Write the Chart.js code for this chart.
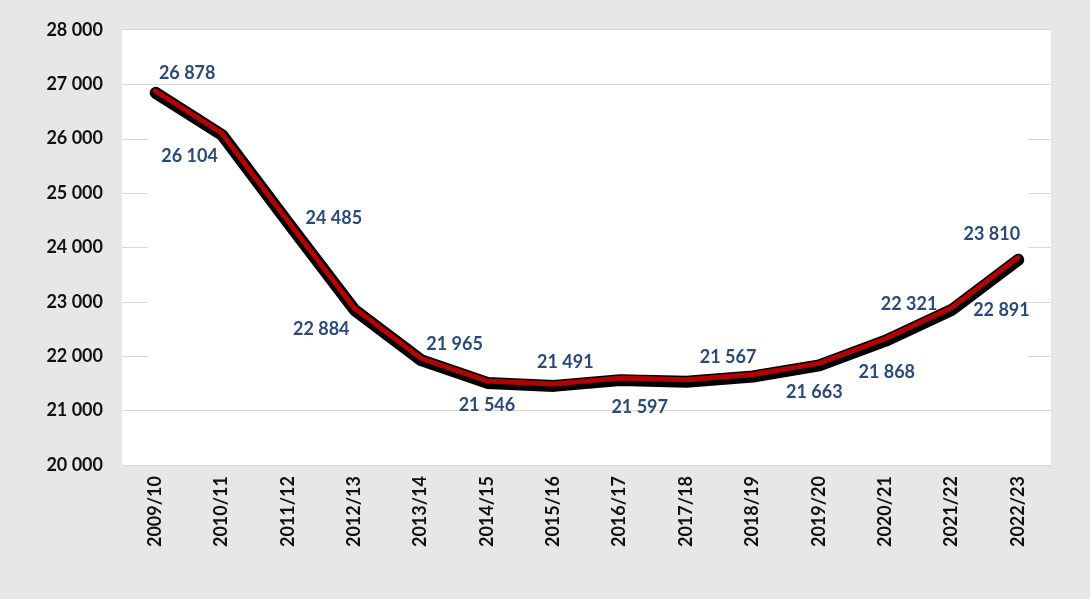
<!DOCTYPE html>
<html>
<head>
<meta charset="utf-8">
<script src="https://cdn.jsdelivr.net/npm/chart.js@4"></script>
<style>
  html, body { margin:0; padding:0; background:#e7e7e7; }
  #wrap { width:1090px; height:599px; }
</style>
</head>
<body>
<div id="wrap"><canvas id="c" width="1090" height="599"></canvas></div>
<script>
const categories = ["2009/10","2010/11","2011/12","2012/13","2013/14","2014/15","2015/16","2016/17","2017/18","2018/19","2019/20","2020/21","2021/22","2022/23"];
const values = [26878, 26104, 24485, 22884, 21965, 21546, 21491, 21597, 21567, 21663, 21868, 22321, 22891, 23810];
const yMin = 20000, yMax = 28000, yStep = 1000;
// gridlines drawn only partially (stubs at the edges) in the reference
const partialGrid = [22000, 23000, 24000, 25000, 26000];

// label placement relative to each point (style only)
const labelOffsets = [[32,-18],[-32,23],[46,-3],[-33,21],[34,-14],[0,24],[12,-22],[20,29],[42,-23],[62,18],[68,9],[24,-35],[50,2],[-26,-24]];

const fmt = v => String(v).replace(/\B(?=(\d{3})+(?!\d))/g, ' ');
const FONT = "Lato, 'Open Sans', sans-serif";
const GRID = '#d9d9d9';

const bgPlugin = {
  id: 'bg',
  beforeDraw(chart) {
    const {ctx, chartArea: a, scales: {x, y}} = chart;
    ctx.save();
    ctx.fillStyle = '#e7e7e7';
    ctx.fillRect(0, 0, chart.width, chart.height);
    ctx.fillStyle = '#ffffff';
    ctx.fillRect(a.left, a.top, a.right - a.left, a.bottom - a.top);
    // edge stubs of partial gridlines
    ctx.strokeStyle = GRID;
    ctx.lineWidth = 1;
    const xl = x.getPixelForValue(0) - 7, xr = x.getPixelForValue(categories.length - 1) + 10;
    partialGrid.forEach(v => {
      const py = Math.round(y.getPixelForValue(v)) + 0.5;
      ctx.beginPath();
      ctx.moveTo(a.left, py); ctx.lineTo(xl, py);
      ctx.moveTo(xr, py); ctx.lineTo(a.right, py);
      ctx.stroke();
    });
    ctx.restore();
  },
  beforeDatasetDraw(chart, args) {
    chart.ctx.save();
    if (args.index === 0) chart.ctx.translate(0.5, 2);
  },
  afterDatasetDraw(chart) {
    chart.ctx.restore();
  },
  afterDatasetsDraw(chart) {
    const {ctx} = chart;
    const meta = chart.getDatasetMeta(1);
    ctx.save();
    ctx.font = "bold 18px " + FONT;
    ctx.fillStyle = '#2c4a76';
    ctx.textAlign = 'center';
    ctx.textBaseline = 'middle';
    meta.data.forEach((pt, i) => {
      const o = labelOffsets[i];
      ctx.fillText(fmt(values[i]), pt.x + o[0], pt.y + o[1]);
    });
    ctx.restore();
  }
};

new Chart(document.getElementById('c'), {
  type: 'line',
  data: {
    labels: categories,
    datasets: [
      { data: values, borderColor: '#000000', borderWidth: 12, pointRadius: 0, tension: 0,
        borderCapStyle: 'round', borderJoinStyle: 'round', order: 2 },
      { data: values, borderColor: '#b30000', borderWidth: 5, pointRadius: 0, tension: 0,
        borderCapStyle: 'round', borderJoinStyle: 'round', order: 1 }
    ]
  },
  options: {
    responsive: false,
    animation: false,
    devicePixelRatio: 1,
    layout: { padding: { top: 29, right: 39, left: 0, bottom: 0 } },
    plugins: { legend: { display: false }, tooltip: { enabled: false } },
    scales: {
      x: {
        offset: true,
        grid: { display: false, drawTicks: false },
        border: { display: false },
        ticks: { color: '#111', font: { family: FONT, size: 18, weight: 'bold' }, minRotation: 90, maxRotation: 90, padding: 11, autoSkip: false },
        afterFit(s) { s.height = 134; }
      },
      y: {
        min: yMin, max: yMax,
        grid: {
          color: ctx => (ctx.tick && partialGrid.includes(ctx.tick.value)) ? 'rgba(0,0,0,0)' : GRID,
          lineWidth: 1, drawTicks: false
        },
        border: { display: false },
        ticks: { stepSize: yStep, color: '#111', font: { family: FONT, size: 18, weight: 'bold' }, padding: 19, callback: v => fmt(v) },
        afterFit(s) { s.width = 122; }
      }
    }
  },
  plugins: [bgPlugin]
});
</script>
</body>
</html>
